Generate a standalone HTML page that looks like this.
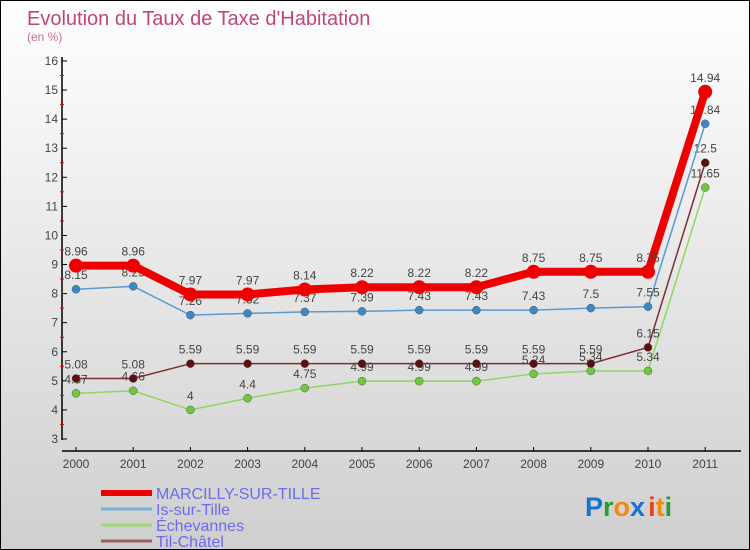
<!DOCTYPE html>
<html><head><meta charset="utf-8"><style>
body{margin:0}
#c{width:748px;height:548px;border:1px solid #000;background:linear-gradient(#fff,#cfcfcf);position:relative;overflow:hidden;font-family:"Liberation Sans",sans-serif}
</style></head><body>
<div id="c">
<svg id="s" width="748" height="548" style="position:absolute;left:0;top:0">
<text x="26" y="24" font-size="20" fill="#c2457a">Evolution du Taux de Taxe d'Habitation</text>
<text x="26" y="40" font-size="12" fill="#d06a90">(en %)</text>
<g id="axes"></g><g id="series"></g><g id="legend"></g>
<text x="584" y="515" font-size="27" font-weight="bold"><tspan fill="#1a6fd0">P</tspan><tspan fill="#2e9a3a">r</tspan><tspan fill="#f28a10">o</tspan><tspan fill="#1a6fd0">x</tspan><tspan fill="#e8401c" dx="3">i</tspan><tspan fill="#f28a10">t</tspan><tspan fill="#2e9a3a">i</tspan></text>
</svg>
</div>
<script>
const years=[2000,2001,2002,2003,2004,2005,2006,2007,2008,2009,2010,2011];
const yTicks=[3,4,5,6,7,8,9,10,11,12,13,14,15,16];
const marcilly=[8.96,8.96,7.97,7.97,8.14,8.22,8.22,8.22,8.75,8.75,8.75,14.94];
const isSurTille=[8.15,8.25,7.26,7.32,7.37,7.39,7.43,7.43,7.43,7.5,7.55,13.84];
const echevannes=[4.57,4.66,4,4.4,4.75,4.99,4.99,4.99,5.24,5.34,5.34,11.65];
const tilChatel=[5.08,5.08,5.59,5.59,5.59,5.59,5.59,5.59,5.59,5.59,6.15,12.5];
const seriesNames=["MARCILLY-SUR-TILLE","Is-sur-Tille","Échevannes","Til-Châtel"];
const NS="http://www.w3.org/2000/svg";
const X=i=>75+i*57.2;
const Y=v=>438-(v-3)*29.08;
function mk(tag,attrs,parent){const e=document.createElementNS(NS,tag);for(const k in attrs)e.setAttribute(k,attrs[k]);parent.appendChild(e);return e;}
const ax=document.getElementById('axes');
let e=mk('line',{x1:61,y1:56,x2:61,y2:439,stroke:'#000','stroke-width':1.5},ax);


e=mk('line',{x1:61,y1:450,x2:740,y2:450,stroke:'#000','stroke-width':1.5},ax);


yTicks.forEach(t=>{
 mk('line',{x1:61,y1:Y(t),x2:66,y2:Y(t),stroke:'#000'},ax);
 if(t<16)mk('line',{x1:59,y1:Y(t+0.5),x2:63,y2:Y(t+0.5),stroke:'#e00'},ax);
 const tx=mk('text',{x:57,y:Y(t)+4,'font-size':12,fill:'#444','text-anchor':'end'},ax);
 tx.textContent=t;
 
 
});
years.forEach((yr,i)=>{
 mk('line',{x1:X(i),y1:446,x2:X(i),y2:450,stroke:'#000'},ax);
 const tx=mk('text',{x:X(i),y:467,'font-size':12,fill:'#444','text-anchor':'middle'},ax);
 tx.textContent=yr;
 
 
});
const sg=document.getElementById('series');
const defs=[[echevannes,'#8ed860','#72c83c',1.5,4,'echevannes'],[tilChatel,'#7a3030','#5a1010',1.5,4,'til-chatel'],[isSurTille,'#5a9ad0','#3a88c8',1.5,4,'is-sur-tille'],[marcilly,'#ee0000','#ee0000',8,7,'marcilly-sur-tille']];
defs.forEach(([vals,lc,pc,w,r,name])=>{
 const g=mk('g',{},sg);
 
 
 const p=mk('polyline',{points:vals.map((v,i)=>X(i)+','+Y(v)).join(' '),fill:'none',stroke:lc,'stroke-width':w,'stroke-linejoin':'round'},g);
 
 
 vals.forEach((v,i)=>{
  const c=mk('circle',{cx:X(i),cy:Y(v),r:r,fill:pc,stroke:r>5?'none':'#555','stroke-width':0.5},g);
  
  
  const t=mk('text',{x:X(i),y:Y(v)-10,'font-size':12,fill:'#444','text-anchor':'middle'},g);
  t.textContent=String(v);
  
  
 });
});
const lg=document.getElementById('legend');
const lcol=['#ee0000','#7aaed6','#9ad870','#9a6060'];
seriesNames.forEach((n,i)=>{
 const y=492+i*16;
 const g=mk('g',{},lg);
 
 
 mk('line',{x1:100,y1:y,x2:151,y2:y,stroke:lcol[i],'stroke-width':i==0?6:3},g);
 const t=mk('text',{x:155,y:y+6,'font-size':16,fill:'#6b6bee'},g);
 t.textContent=n;
});
</script>
</body></html>
